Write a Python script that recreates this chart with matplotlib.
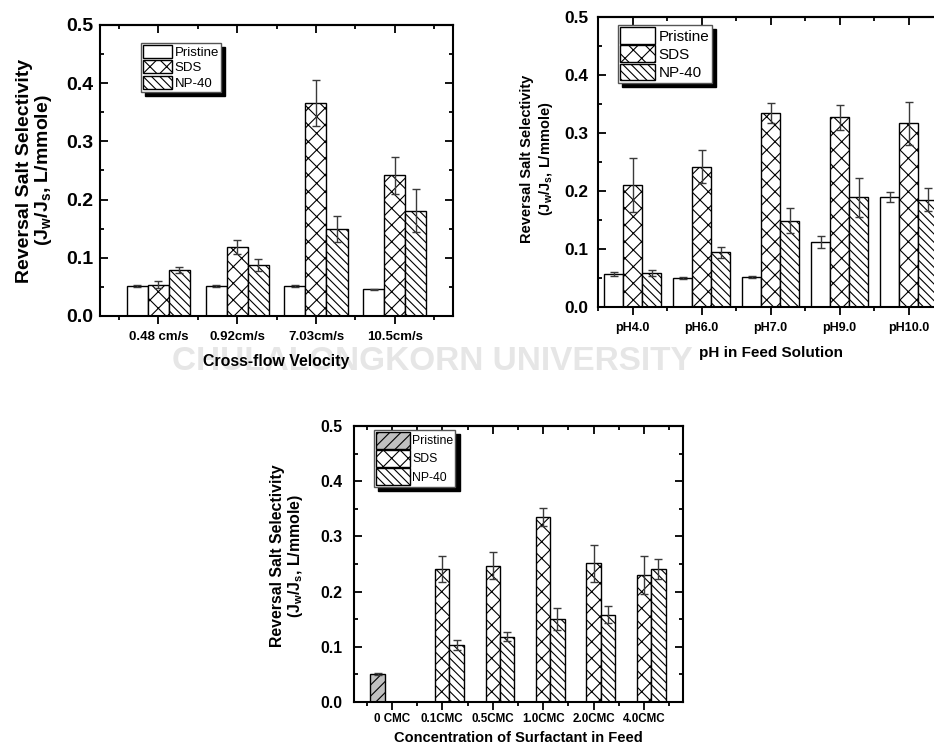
import matplotlib
matplotlib.use('Agg')
import matplotlib.pyplot as plt
import numpy as np
from matplotlib.ticker import MultipleLocator

plt.rcParams['font.family'] = ['Liberation Sans', 'DejaVu Sans']
plt.rcParams['font.weight'] = 'bold'
plt.rcParams['mathtext.fontset'] = 'custom'
plt.rcParams['mathtext.bf'] = 'Liberation Sans:bold'
plt.rcParams['mathtext.rm'] = 'Liberation Sans:bold'
plt.rcParams['mathtext.default'] = 'bf'
plt.rcParams['hatch.linewidth'] = 0.8
plt.rcParams['axes.linewidth'] = 1.5

series = ['Pristine', 'SDS', 'NP-40']

# cross-flow velocity
vel_labels = ['0.48 cm/s', '0.92cm/s', '7.03cm/s', '10.5cm/s']
vel_pristine = [0.052, 0.052, 0.051, 0.046]
vel_pristine_err = [0.002, 0.002, 0.002, 0.001]
vel_sds = [0.054, 0.119, 0.366, 0.242]
vel_sds_err = [0.006, 0.012, 0.040, 0.032]
vel_np40 = [0.079, 0.088, 0.149, 0.181]
vel_np40_err = [0.006, 0.010, 0.022, 0.037]

# feed pH
ph_labels = ['pH4.0', 'pH6.0', 'pH7.0', 'pH9.0', 'pH10.0']
ph_pristine = [0.057, 0.050, 0.052, 0.112, 0.190]
ph_pristine_err = [0.003, 0.001, 0.002, 0.011, 0.009]
ph_sds = [0.210, 0.242, 0.334, 0.327, 0.317]
ph_sds_err = [0.046, 0.029, 0.017, 0.022, 0.037]
ph_np40 = [0.059, 0.094, 0.149, 0.189, 0.185]
ph_np40_err = [0.005, 0.010, 0.022, 0.034, 0.020]

# surfactant concentration
cmc_labels = ['0 CMC', '0.1CMC', '0.5CMC', '1.0CMC', '2.0CMC', '4.0CMC']
cmc_pristine = [0.051, np.nan, np.nan, np.nan, np.nan, np.nan]
cmc_pristine_err = [0.002, np.nan, np.nan, np.nan, np.nan, np.nan]
cmc_sds = [np.nan, 0.241, 0.247, 0.335, 0.251, 0.230]
cmc_sds_err = [np.nan, 0.023, 0.025, 0.016, 0.034, 0.034]
cmc_np40 = [np.nan, 0.103, 0.118, 0.151, 0.158, 0.241]
cmc_np40_err = [np.nan, 0.009, 0.008, 0.020, 0.015, 0.018]

ylabel = 'Reversal Salt Selectivity\n(J$_w$/J$_s$, L/mmole)'

fig = plt.figure(figsize=(9.34, 7.44), dpi=100)

# watermark of the source document, kept behind everything
fig.text(0.4626, 0.514, 'CHULALONGKORN UNIVERSITY', color='#e6e6e6',
         fontsize=24, family=['Liberation Sans Narrow', 'Liberation Sans'],
         weight='bold', ha='center', va='center', zorder=-5)


def panel(rect, labels, data, errs, width, xlim, hatches, faces, fs):
    ax = fig.add_axes(rect)
    x = np.arange(1, len(labels) + 1)
    for i, (vals, err) in enumerate(zip(data, errs)):
        off = (i - 1) * width
        ax.bar(x + off, vals, width, color=faces[i], edgecolor='black',
               linewidth=1, hatch=hatches[i], label=series[i], zorder=2)
        ax.errorbar(x + off, vals, yerr=err, fmt='none', ecolor='#3a3a3a',
                    elinewidth=1, capsize=3, capthick=1, zorder=3)
    ax.set_xlim(*xlim)
    ax.set_ylim(0, 0.5)
    ax.set_xticks(x)
    ax.set_xticklabels(labels, fontsize=fs['xt'], fontweight='bold')
    ax.xaxis.set_minor_locator(MultipleLocator(0.5))
    ax.yaxis.set_minor_locator(MultipleLocator(0.05))
    ax.set_yticks(np.arange(0, 0.51, 0.1))
    ax.set_yticklabels(['%.1f' % v for v in np.arange(0, 0.51, 0.1)],
                       fontsize=fs['yt'], fontweight='bold')
    ax.tick_params(axis='x', which='major', direction='out', length=6, width=1.3,
                   pad=fs['xpad'])
    ax.tick_params(axis='x', which='minor', direction='out', length=3, width=1.3)
    ax.tick_params(axis='y', which='major', direction='in', length=6, width=1.3,
                   left=True, right=True, pad=fs['ypad'])
    ax.tick_params(axis='y', which='minor', direction='in', length=3, width=1.3,
                   left=True, right=True)
    top = ax.secondary_xaxis('top')
    top.set_xticks(x)
    top.xaxis.set_minor_locator(MultipleLocator(0.5))
    top.tick_params(axis='x', which='major', direction='in', length=6, width=1.3,
                    labeltop=False)
    top.tick_params(axis='x', which='minor', direction='in', length=3, width=1.3)
    top.spines['top'].set_linewidth(1.5)
    return ax


def legend(ax, anchor, size, hl, hh):
    leg = ax.legend(loc='upper left', bbox_to_anchor=anchor,
                    bbox_transform=fig.transFigure, borderaxespad=0,
                    prop={'family': 'Liberation Sans', 'weight': 'normal', 'size': size},
                    handlelength=hl, handleheight=hh, handletextpad=0.2,
                    labelspacing=0.1, borderpad=0.15, fancybox=False,
                    framealpha=1, edgecolor='#555555',
                    shadow={'ox': 3, 'oy': -3, 'facecolor': 'black',
                            'edgecolor': 'black', 'alpha': 1})
    leg.get_frame().set_linewidth(1)
    return leg


# panel 1: cross-flow velocity
ax1 = panel([0.1071, 0.5753, 0.378, 0.3911], vel_labels,
            [vel_pristine, vel_sds, vel_np40],
            [vel_pristine_err, vel_sds_err, vel_np40_err],
            0.267, (0.26, 4.74), ['', 'xx', '\\\\\\\\'], ['white', 'white', 'white'],
            {'xt': 9.5, 'yt': 14, 'xpad': 4.5, 'ypad': 5})
ax1.set_xlabel('Cross-flow Velocity', fontsize=11.4, fontweight='bold', va='center')
ax1.xaxis.set_label_coords(0.5, -0.158)
ax1.set_ylabel(ylabel, fontsize=14, fontweight='bold', va='center', linespacing=1.0)
ax1.yaxis.set_label_coords(-0.185, 0.5)
legend(ax1, (0.151, 0.9422), 9.5, 2.2, 1.15)

# panel 2: pH
ax2 = panel([0.6403, 0.5874, 0.3694, 0.3898], ph_labels,
            [ph_pristine, ph_sds, ph_np40],
            [ph_pristine_err, ph_sds_err, ph_np40_err],
            0.275, (0.5, 5.5), ['', 'xx', '\\\\\\\\'], ['white', 'white', 'white'],
            {'xt': 9, 'yt': 12.4, 'xpad': 5, 'ypad': 7})
ax2.set_xlabel('pH in Feed Solution', fontsize=11, fontweight='bold', va='center')
ax2.xaxis.set_label_coords(0.5, -0.159)
ax2.set_ylabel(ylabel, fontsize=10.5, fontweight='bold', va='center', linespacing=1.25)
ax2.yaxis.set_label_coords(-0.175, 0.512)
legend(ax2, (0.6617, 0.9664), 11, 2.3, 1.3)

# panel 3: surfactant concentration
ax3 = panel([0.379, 0.05645, 0.3522, 0.371], cmc_labels,
            [cmc_pristine, cmc_sds, cmc_np40],
            [cmc_pristine_err, cmc_sds_err, cmc_np40_err],
            0.283, (0.25, 6.77), ['///', 'xx', '\\\\\\\\'], ['#c0c0c0', 'white', 'white'],
            {'xt': 8.4, 'yt': 11.4, 'xpad': 2, 'ypad': 8})
ax3.set_xlabel('Concentration of Surfactant in Feed', fontsize=10.5,
               fontweight='bold', va='center')
ax3.xaxis.set_label_coords(0.5, -0.130)
ax3.set_ylabel(ylabel, fontsize=11.4, fontweight='bold', va='center', linespacing=1.05)
ax3.yaxis.set_label_coords(-0.202, 0.529)
legend(ax3, (0.4004, 0.4220), 8.8, 2.8, 1.75)

fig.savefig('out.png', dpi=100)
